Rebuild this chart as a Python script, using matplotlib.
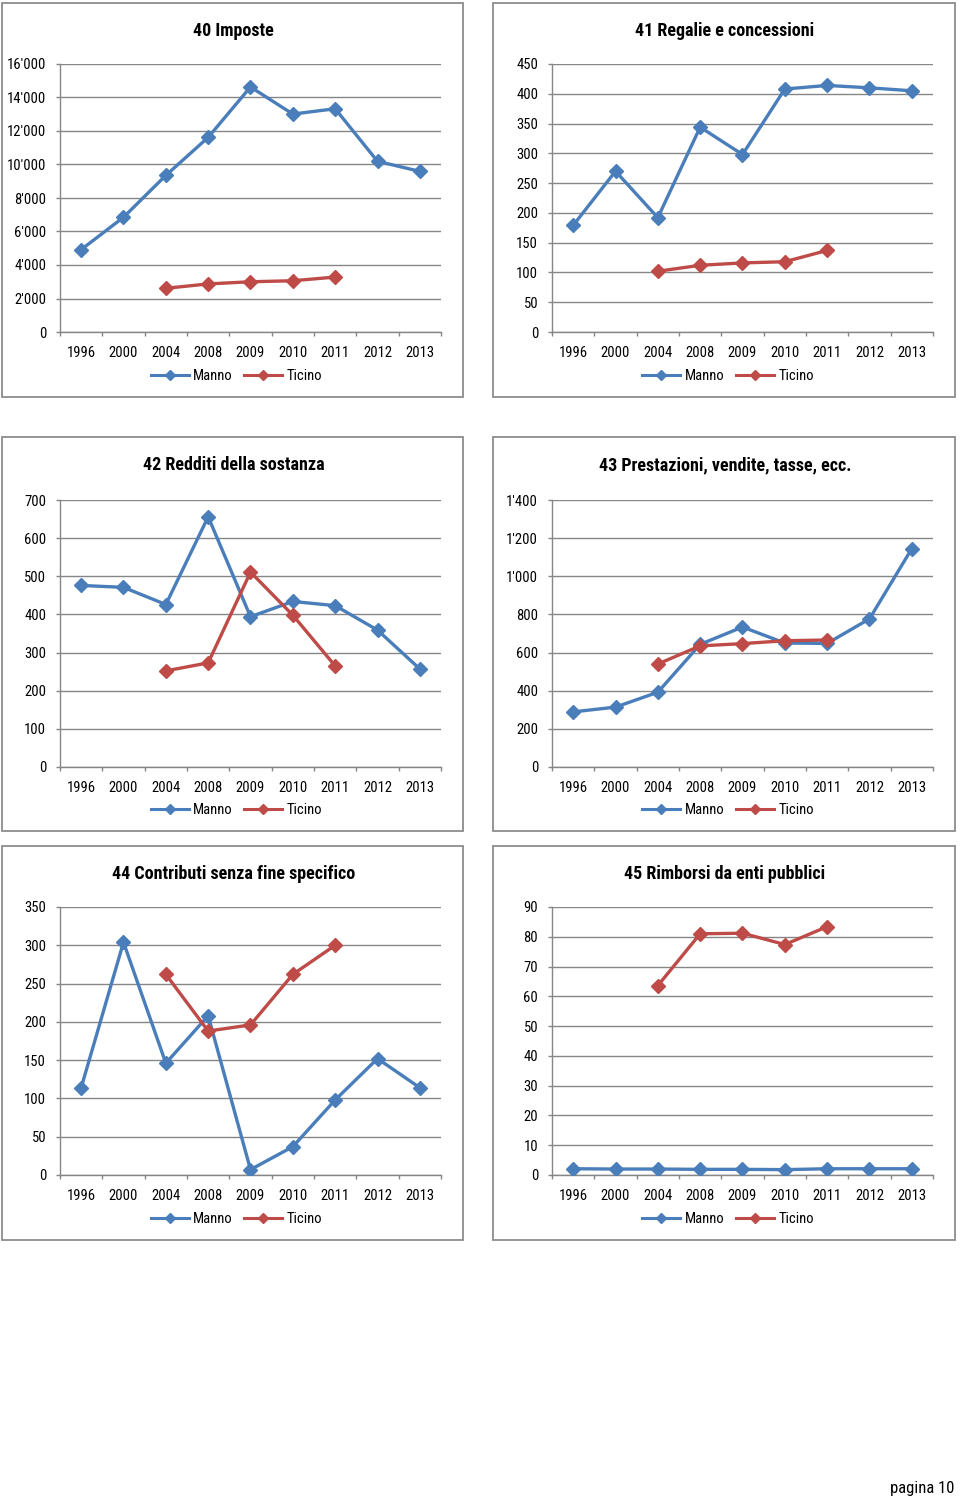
import numpy as np
import matplotlib
matplotlib.use("Agg")
import matplotlib.pyplot as plt
from matplotlib.ticker import FuncFormatter, FixedLocator
from matplotlib.patches import Rectangle
from matplotlib.lines import Line2D

plt.rcParams['font.family'] = ['Roboto Condensed', 'Liberation Sans', 'DejaVu Sans']

years = ['1996', '2000', '2004', '2008', '2009', '2010', '2011', '2012', '2013']
nan = np.nan

titles = ['40 Imposte', '41 Regalie e concessioni', '42 Redditi della sostanza',
          '43 Prestazioni, vendite, tasse, ecc.', '44 Contributi senza fine specifico',
          '45 Rimborsi da enti pubblici']

manno_40 = [4920, 6850, 9350, 11620, 14630, 13010, 13330, 10190, 9590]
ticino_40 = [nan, nan, 2610, 2870, 3000, 3060, 3280, nan, nan]
manno_41 = [179, 270, 192, 344, 298, 408, 414, 410, 405]
ticino_41 = [nan, nan, 102, 112, 116, 118, 137, nan, nan]
manno_42 = [476, 471, 426, 656, 394, 434, 423, 359, 257]
ticino_42 = [nan, nan, 252, 273, 511, 398, 265, nan, nan]
manno_43 = [289, 314, 392, 643, 734, 650, 648, 777, 1145]
ticino_43 = [nan, nan, 540, 635, 647, 662, 666, nan, nan]
manno_44 = [114, 304, 146, 208, 7, 37, 98, 152, 114]
ticino_44 = [nan, nan, 262, 188, 196, 262, 300, nan, nan]
manno_45 = [2.1, 2.0, 2.0, 1.9, 1.9, 1.8, 2.1, 2.1, 2.1]
ticino_45 = [nan, nan, 63.6, 81.0, 81.2, 77.4, 83.4, nan, nan]

ymax = [16000, 450, 700, 1400, 350, 90]
ystep = [2000, 50, 100, 200, 50, 10]

manno = [manno_40, manno_41, manno_42, manno_43, manno_44, manno_45]
ticino = [ticino_40, ticino_41, ticino_42, ticino_43, ticino_44, ticino_45]

W, H = 960, 1501
fig = plt.figure(figsize=(W / 100, H / 100), dpi=100)

BLUE = '#4a7ebb'
RED = '#be4b48'
GRID = '#868686'

panels = [(2, 3, 463, 397), (493, 3, 955, 397),
          (2, 437, 463, 831), (493, 437, 955, 831),
          (2, 846, 463, 1240), (493, 846, 955, 1240)]
plots = [(60, 64, 441, 332), (552, 64, 933, 332),
         (60, 500, 441, 767), (552, 500, 933, 767),
         (60, 907, 441, 1175), (552, 907, 933, 1175)]


def fmt(v, pos):
    v = int(round(v))
    return f"{v:,}".replace(",", "'")


for i in range(6):
    px0, py0, px1, py1 = panels[i]
    fig.patches.append(Rectangle((px0 / W, 1 - py1 / H), (px1 - px0) / W, (py1 - py0) / H,
                                 transform=fig.transFigure, fill=False,
                                 edgecolor='#8c8c8c', linewidth=1.3))
    x0, y0, x1, y1 = plots[i]
    ax = fig.add_axes([x0 / W, 1 - y1 / H, (x1 - x0) / W, (y1 - y0) / H])
    x = np.arange(len(years))
    ax.plot(x, manno[i], color=BLUE, lw=2.4, marker='D', ms=7.3, label='Manno', zorder=3)
    ax.plot(x, ticino[i], color=RED, lw=2.4, marker='D', ms=7.3, label='Ticino', zorder=3)
    ax.set_xlim(-0.5, len(years) - 0.5)
    ax.set_ylim(0, ymax[i])
    ax.set_yticks(np.arange(0, ymax[i] + ystep[i] / 2, ystep[i]))
    ax.yaxis.set_major_formatter(FuncFormatter(fmt))
    ax.set_xticks(x)
    ax.set_xticklabels(years)
    ax.xaxis.set_minor_locator(FixedLocator(np.arange(-0.5, len(years), 1.0)))
    ax.tick_params(axis='x', which='major', length=0, pad=10, labelsize=10.5)
    ax.tick_params(axis='x', which='minor', length=3, color=GRID, width=1)
    ax.tick_params(axis='y', length=3, color=GRID, width=1, labelsize=10.5, pad=7)
    ax.grid(axis='y', color=GRID, lw=1)
    ax.set_axisbelow(True)
    for s in ['top', 'right']:
        ax.spines[s].set_visible(False)
    for s in ['left', 'bottom']:
        ax.spines[s].set_color(GRID)
        ax.spines[s].set_linewidth(1)
    cx = (px0 + px1) / 2 + 1
    fig.text(cx / W, 1 - (py0 + 28) / H, titles[i], ha='center', va='center',
             fontsize=13, fontweight='bold')
    handles = [Line2D([], [], color=BLUE, lw=2.2, marker='D', ms=5),
               Line2D([], [], color=RED, lw=2.2, marker='D', ms=5)]
    fig.legend(handles, ['Manno', 'Ticino'], loc='center',
               bbox_to_anchor=((px0 + px1) / 2 / W + 4 / W, 1 - (py0 + 373) / H),
               ncol=2, frameon=False, fontsize=10.5, handlelength=2.6,
               handletextpad=0.3, columnspacing=0.8)

fig.text(922 / W, 1 - 1488 / H, 'pagina 10', ha='center', va='center', fontsize=12)

fig.savefig('out.png', dpi=100)
